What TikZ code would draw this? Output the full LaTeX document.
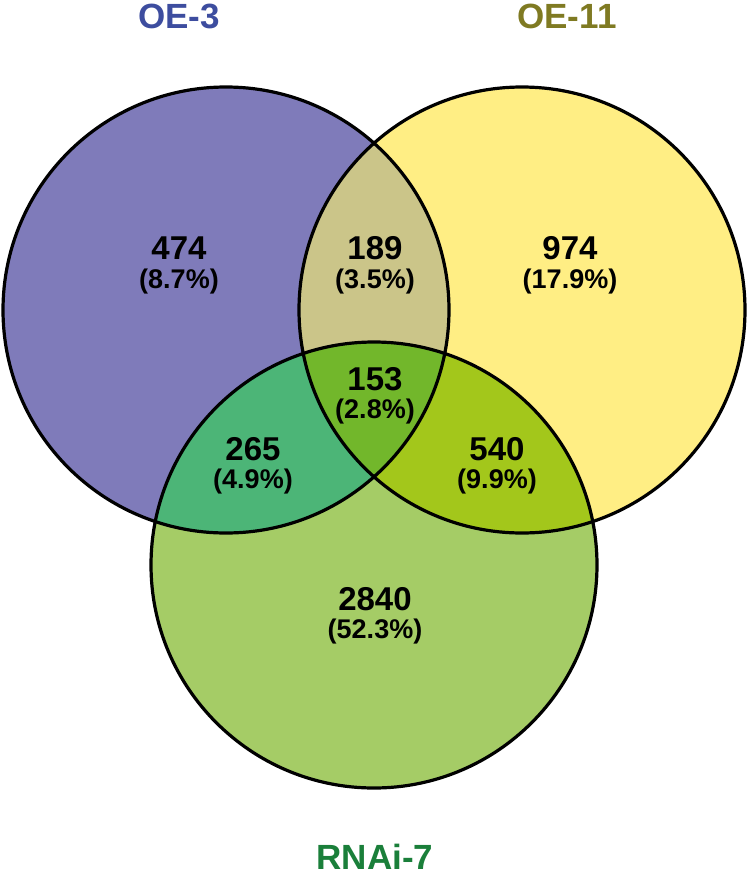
\documentclass[tikz,border=0pt]{standalone}
\usepackage{fontspec}
\setmainfont{Liberation Sans}
\begin{document}
\begin{tikzpicture}[x=1pt,y=-1pt,
  num/.style={font=\fontsize{33}{33}\selectfont\bfseries, inner sep=0pt, anchor=base},
  pct/.style={font=\fontsize{27}{27}\selectfont\bfseries, inner sep=0pt, anchor=base},
  ttl/.style={font=\fontsize{35}{35}\selectfont\bfseries, inner sep=0pt, anchor=base},
  outline/.style={draw=black, line width=3.2pt}]
\definecolor{cA}{HTML}{7F7BBA}
\definecolor{cB}{HTML}{FFEE84}
\definecolor{cC}{HTML}{A5CC66}
\definecolor{cAB}{HTML}{CBC589}
\definecolor{cAC}{HTML}{4CB577}
\definecolor{cBC}{HTML}{A3C71B}
\definecolor{cABC}{HTML}{72B72B}
\definecolor{tA}{HTML}{3D4D9F}
\definecolor{tB}{HTML}{7F7A22}
\definecolor{tC}{HTML}{1A7F3A}
\useasboundingbox (0,0) rectangle (750,876);
\fill[white] (0,0) rectangle (750,876);
\def\R{223}
\coordinate (ca) at (226,310);
\coordinate (cb) at (522,310);
\coordinate (cc) at (374,565);
\fill[cA] (ca) circle (\R);
\fill[cB] (cb) circle (\R);
\fill[cC] (cc) circle (\R);
\begin{scope}\clip (ca) circle (\R); \fill[cAB] (cb) circle (\R);\end{scope}
\begin{scope}\clip (ca) circle (\R); \fill[cAC] (cc) circle (\R);\end{scope}
\begin{scope}\clip (cb) circle (\R); \fill[cBC] (cc) circle (\R);\end{scope}
\begin{scope}\clip (ca) circle (\R); \clip (cb) circle (\R); \fill[cABC] (cc) circle (\R);\end{scope}
\draw[outline] (ca) circle (\R);
\draw[outline] (cb) circle (\R);
\draw[outline] (cc) circle (\R);
\node[ttl, text=tA] (tA) at (179,28) {OE-3};
\node[ttl, text=tB] (tB) at (567,28) {OE-11};
\node[ttl, text=tC] (tC) at (375,869) {RNAi-7};
\node[num] (n1) at (179,259) {474};
\node[pct] (p1) at (179,288) {(8.7\%)};
\node[num] (n2) at (375,259) {189};
\node[pct] (p2) at (375,288) {(3.5\%)};
\node[num] (n3) at (570,259) {974};
\node[pct] (p3) at (570,288) {(17.9\%)};
\node[num] (n4) at (375,390) {153};
\node[pct] (p4) at (375,418) {(2.8\%)};
\node[num] (n5) at (253,460) {265};
\node[pct] (p5) at (253,488) {(4.9\%)};
\node[num] (n6) at (497,460) {540};
\node[pct] (p6) at (497,488) {(9.9\%)};
\node[num] (n7) at (375,610) {2840};
\node[pct] (p7) at (375,638) {(52.3\%)};
\end{tikzpicture}
\end{document}
